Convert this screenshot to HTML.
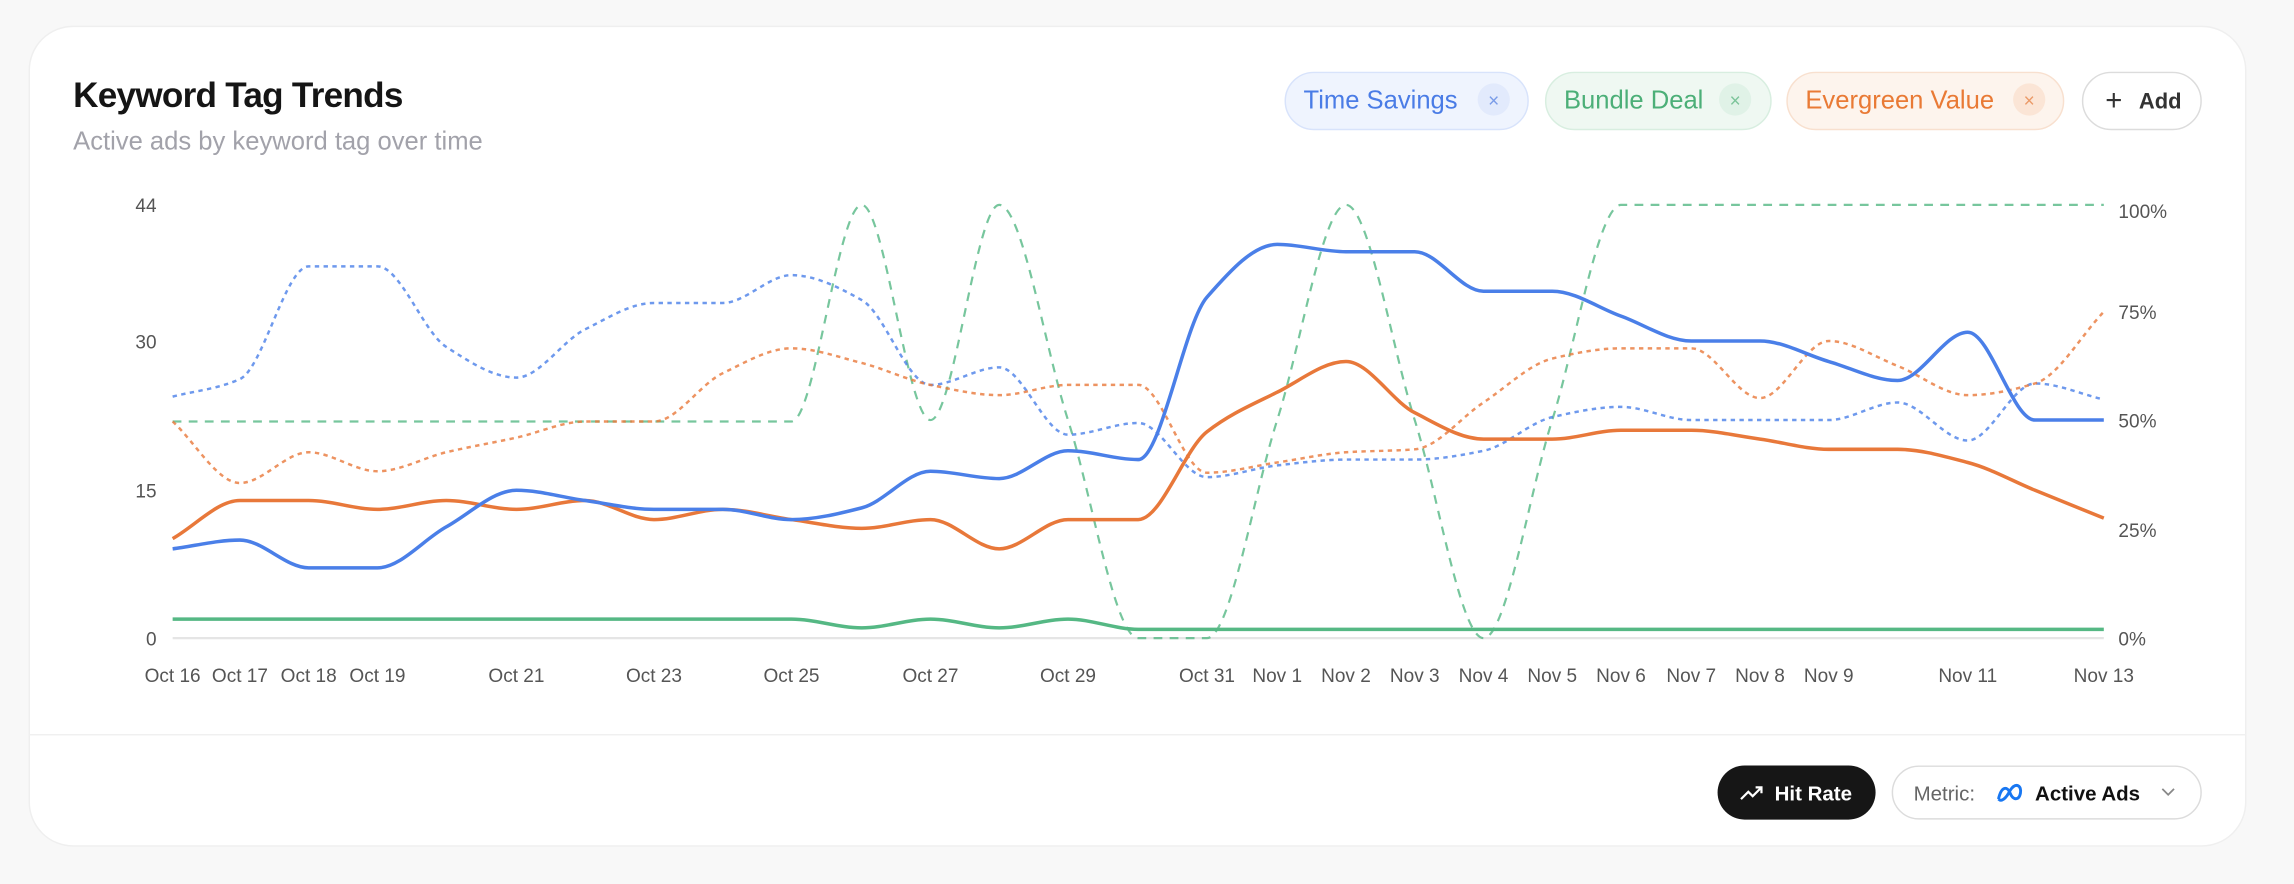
<!DOCTYPE html>
<html><head><meta charset="utf-8"><style>
html,body{margin:0;padding:0;background:#f8f8f8;}
svg{display:block;font-family:"Liberation Sans",sans-serif;}
</style></head><body>
<svg id="s" width="2294" height="884" viewBox="0 0 1568 604" preserveAspectRatio="none">
<rect x="0" y="0" width="1568" height="604" fill="#f8f8f8"/>
<rect x="20" y="18" width="1515" height="560" rx="30" fill="#fff" stroke="#efefef"/>
<text x="50" y="73" font-size="24" font-weight="bold" fill="#151515" letter-spacing="-0.5">Keyword Tag Trends</text>
<text x="50" y="102" font-size="17.5" fill="#a2a2aa">Active ads by keyword tag over time</text>
<rect x="878.5" y="49.5" width="166" height="39" rx="19.5" fill="#eff4fe" stroke="#d8e3fb"/>
<text x="891" y="74" font-size="17.5" fill="#4a7ce6">Time Savings</text>
<circle cx="1021" cy="68" r="11" fill="#e2eafc"/><text x="1021" y="73" font-size="13" fill="#7a9ce8" text-anchor="middle">×</text>
<rect x="1056.5" y="49.5" width="154" height="39" rx="19.5" fill="#eff8f2" stroke="#d8eee0"/>
<text x="1069" y="74" font-size="17.5" fill="#4caf78">Bundle Deal</text>
<circle cx="1186" cy="68" r="11" fill="#e0f2e7"/><text x="1186" y="73" font-size="13" fill="#7cc49a" text-anchor="middle">×</text>
<rect x="1221.5" y="49.5" width="189" height="39" rx="19.5" fill="#fdf4ed" stroke="#f8e0cf"/>
<text x="1234" y="74" font-size="17.5" fill="#e97a35">Evergreen Value</text>
<circle cx="1387" cy="68" r="11" fill="#fbe5d6"/><text x="1387" y="73" font-size="13" fill="#eb9a68" text-anchor="middle">×</text>
<rect x="1423.5" y="49.5" width="81" height="39" rx="19.5" fill="#fff" stroke="#dcdcdc"/>
<text x="1439" y="75" font-size="20" fill="#333">+</text><text x="1462" y="74" font-size="15" font-weight="bold" fill="#333">Add</text>
<line x1="118" y1="436" x2="1438" y2="436" stroke="#e5e5e5" stroke-width="1.5"/>
<g font-size="13" fill="#555" text-anchor="end">
<text x="107" y="145">44</text><text x="107" y="238">30</text><text x="107" y="340">15</text><text x="107" y="441">0</text>
</g>
<g font-size="13" fill="#555">
<text x="1448" y="149">100%</text><text x="1448" y="218">75%</text><text x="1448" y="292">50%</text><text x="1448" y="367">25%</text><text x="1448" y="441">0%</text>
</g>
<g id="xl" font-size="13" fill="#555" text-anchor="middle"></g>
<g id="series" fill="none" stroke-linejoin="round"></g>
<line x1="20" y1="502" x2="1535" y2="502" stroke="#f0f0f0"/>
<rect x="1174" y="523" width="108" height="37" rx="18.5" fill="#161616"/>
<path d="M1190 546 l5 -5 l3 3 l6 -6 M1200 538 h4 v4" stroke="#fff" stroke-width="1.5" fill="none"/>
<text x="1213" y="547" font-size="14" font-weight="bold" fill="#fff">Hit Rate</text>
<rect x="1293.5" y="523.5" width="211" height="36" rx="18" fill="#fff" stroke="#dcdcdc"/>
<text x="1308" y="547" font-size="14" fill="#666">Metric:</text>
<path d="M1366 546 c2 -9 6 -9 8 -4 c2 5 6 5 7 0 c1 -5 -3 -8 -7 -2 c-3 6 -6 8 -8 6" stroke="#1877f2" stroke-width="2" fill="none"/>
<text x="1391" y="547" font-size="14" font-weight="bold" fill="#111">Active Ads</text>
<path d="M1478 539 l4 4 l4 -4" stroke="#888" stroke-width="1.2" fill="none"/>
</svg>
<script>
var X=[118,164,211,258,305,353,400,447,494,541,589,636,683,730,778,825,873,920,967,1014,1061,1108,1156,1203,1250,1297,1345,1391,1438];
var labels=[[118,"Oct 16"],[164,"Oct 17"],[211,"Oct 18"],[258,"Oct 19"],[353,"Oct 21"],[447,"Oct 23"],[541,"Oct 25"],[636,"Oct 27"],[730,"Oct 29"],[825,"Oct 31"],[873,"Nov 1"],[920,"Nov 2"],[967,"Nov 3"],[1014,"Nov 4"],[1061,"Nov 5"],[1108,"Nov 6"],[1156,"Nov 7"],[1203,"Nov 8"],[1250,"Nov 9"],[1345,"Nov 11"],[1438,"Nov 13"]];
var ns="http://www.w3.org/2000/svg";
var xl=document.getElementById("xl");
labels.forEach(function(l){var t=document.createElementNS(ns,"text");t.setAttribute("x",l[0]);t.setAttribute("y",466);t.textContent=l[1];xl.appendChild(t);});
function mono(xs,ys){var n=xs.length,d=[],m=[];for(var i=0;i<n-1;i++)d.push((ys[i+1]-ys[i])/(xs[i+1]-xs[i]));
m[0]=d[0];m[n-1]=d[n-2];for(i=1;i<n-1;i++){if(d[i-1]*d[i]<=0)m[i]=0;else{var h0=xs[i]-xs[i-1],h1=xs[i+1]-xs[i];m[i]=3*(h0+h1)/((2*h1+h0)/d[i-1]+(h1+2*h0)/d[i]);}}
var p="M"+xs[0]+","+ys[0];for(i=0;i<n-1;i++){var h=(xs[i+1]-xs[i])/3;p+=" C"+(xs[i]+h)+","+(ys[i]+m[i]*h)+" "+(xs[i+1]-h)+","+(ys[i+1]-m[i+1]*h)+" "+xs[i+1]+","+ys[i+1];}return p;}
var S=[
["#55b884",1.5,"6 5",0.8,[288,288,288,288,288,288,288,288,288,288,140,287,140,287,436,436,287,140,287,436,287,140,140,140,140,140,140,140,140]],
["#4a7fe8",1.7,"3 3",0.8,[271,259,182,182,237,258,225,207,207,188,205,263,251,297,289,326,318,314,314,308,285,278,287,287,287,275,301,262,273]],
["#e8783a",1.7,"3 3",0.8,[288,330,309,322,309,299,288,288,255,238,248,263,270,263,263,323,316,309,307,275,245,238,238,272,233,250,270,262,213]],
["#55b884",2.4,"",1,[423,423,423,423,423,423,423,423,423,423,429,423,429,423,430,430,430,430,430,430,430,430,430,430,430,430,430,430,430]],
["#e8783a",2.4,"",1,[368,342,342,348,342,348,342,355,348,355,361,355,375,355,355,295,268,247,282,300,300,294,294,300,307,307,316,335,354]],
["#4a7fe8",2.4,"",1,[375,369,388,388,360,335,342,348,348,355,347,322,327,308,314,203,167,172,172,199,199,216,233,233,247,260,227,287,287]]
];
var g=document.getElementById("series");
S.forEach(function(s){var p=document.createElementNS(ns,"path");p.setAttribute("d",mono(X,s[4]));p.setAttribute("stroke",s[0]);p.setAttribute("stroke-width",s[1]);if(s[2])p.setAttribute("stroke-dasharray",s[2]);p.setAttribute("opacity",s[3]);g.appendChild(p);});
</script>
</body></html>
